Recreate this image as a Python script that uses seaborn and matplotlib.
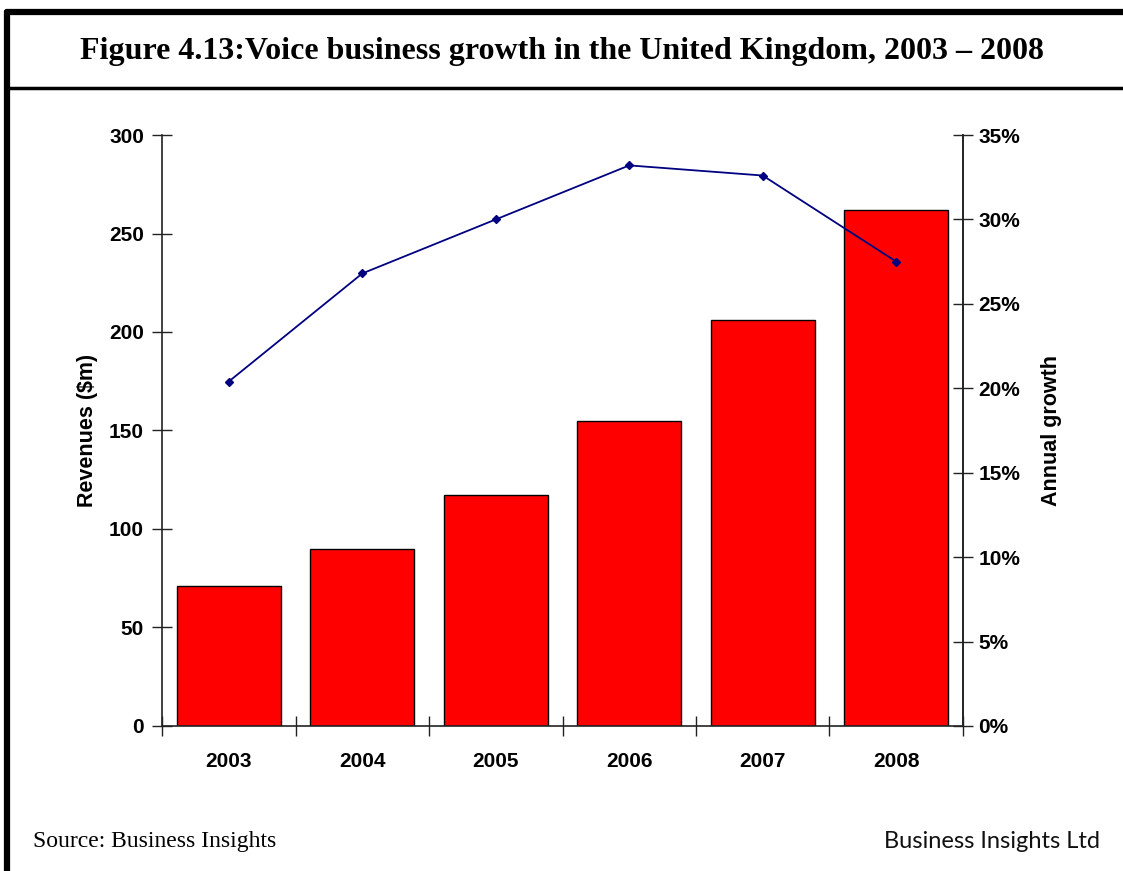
import matplotlib
matplotlib.use("Agg")
import matplotlib.pyplot as plt
from matplotlib.lines import Line2D
from matplotlib.ticker import FixedLocator, FuncFormatter
import seaborn as sns
import pandas as pd

years = ["2003", "2004", "2005", "2006", "2007", "2008"]
revenues = [71, 90, 117, 155, 206, 262]          # $m
growth = [20.4, 26.8, 30.0, 33.2, 32.6, 27.5]    # % annual growth

title = "Figure 4.13:Voice business growth in the United Kingdom, 2003 \u2013 2008"
source = "Source: Business Insights"
brand = "Business Insights Ltd"

sns.set_theme(style="white")
plt.rcParams["font.family"] = ["Liberation Sans", "DejaVu Sans"]
plt.rcParams["text.color"] = "black"

df = pd.DataFrame({"year": years, "revenue": revenues, "growth": growth})

fig = plt.figure(figsize=(11.23, 8.71), dpi=100)
ax = fig.add_axes([0.1443, 0.1665, 0.7132, 0.6785])

sns.barplot(data=df, x="year", y="revenue", ax=ax, color="#ff0000",
            edgecolor="black", linewidth=1.0, width=0.78, saturation=1)

ax.set_ylim(0, 300)
ax.set_xlim(-0.5, 5.5)
ax.set_yticks(range(0, 301, 50))
ax.xaxis.set_minor_locator(FixedLocator([i - 0.5 for i in range(7)]))
ax.tick_params(axis="x", which="major", length=0, pad=19)
ax.tick_params(axis="x", which="minor", length=14, direction="inout",
               width=1, color="#222222", bottom=True)
ax.tick_params(axis="y", length=14, direction="inout", width=1,
               color="#222222", pad=6, left=True)
for lbl in ax.get_xticklabels() + ax.get_yticklabels():
    lbl.set_fontsize(15)
    lbl.set_fontweight("bold")
    lbl.set_color("black")
ax.set_xlabel("")
ax.set_ylabel("Revenues ($m)", fontsize=15.5, fontweight="bold",
              color="black", labelpad=8)

for side in ["left", "bottom", "right"]:
    ax.spines[side].set_visible(True)
    ax.spines[side].set_color("#222222")
    ax.spines[side].set_linewidth(1.2)
ax.spines["top"].set_visible(False)

ax2 = ax.twinx()
sns.pointplot(data=df, x="year", y="growth", ax=ax2, color="#000080",
              markers="D", markersize=4.5, linewidth=1.3)
ax2.set_xlim(-0.5, 5.5)
ax2.set_ylim(0, 35)
ax2.set_yticks(range(0, 36, 5))
ax2.yaxis.set_major_formatter(FuncFormatter(lambda v, p: f"{int(v)}%"))
ax2.tick_params(axis="y", length=14, direction="inout", width=1,
                color="#222222", pad=4, right=True, left=False)
for lbl in ax2.get_yticklabels():
    lbl.set_fontsize(15)
    lbl.set_fontweight("bold")
    lbl.set_color("black")
ax2.set_ylabel("Annual growth", fontsize=15.5, fontweight="bold",
               color="black", labelpad=15)
for side in ["left", "bottom", "top"]:
    ax2.spines[side].set_visible(False)
ax2.spines["right"].set_visible(True)
ax2.spines["right"].set_color("#222222")
ax2.spines["right"].set_linewidth(1.2)

# frame and title band
fig.add_artist(Line2D([0.0063, 1.0], [1 - 12 / 871, 1 - 12 / 871],
                      transform=fig.transFigure, color="black", linewidth=4.5))
fig.add_artist(Line2D([0.0063, 0.0063], [0.0, 1 - 12 / 871],
                      transform=fig.transFigure, color="black", linewidth=4.5))
fig.add_artist(Line2D([0.0063, 1.0], [1 - 88 / 871, 1 - 88 / 871],
                      transform=fig.transFigure, color="black", linewidth=2.5))

fig.text(0.5, 1 - 52 / 871, title, ha="center", va="center", color="black",
         fontsize=23, fontweight="bold", family=["Liberation Serif", "DejaVu Serif"])
fig.text(33 / 1123, 1 - 841 / 871, source, ha="left", va="center", color="black",
         fontsize=17, family=["Liberation Serif", "DejaVu Serif"])
fig.text(1100 / 1123, 1 - 841 / 871, brand, ha="right", va="center", color="#111111",
         fontsize=17, fontweight="normal", family=["Lato", "DejaVu Sans"])

fig.savefig("out.png", dpi=100)
